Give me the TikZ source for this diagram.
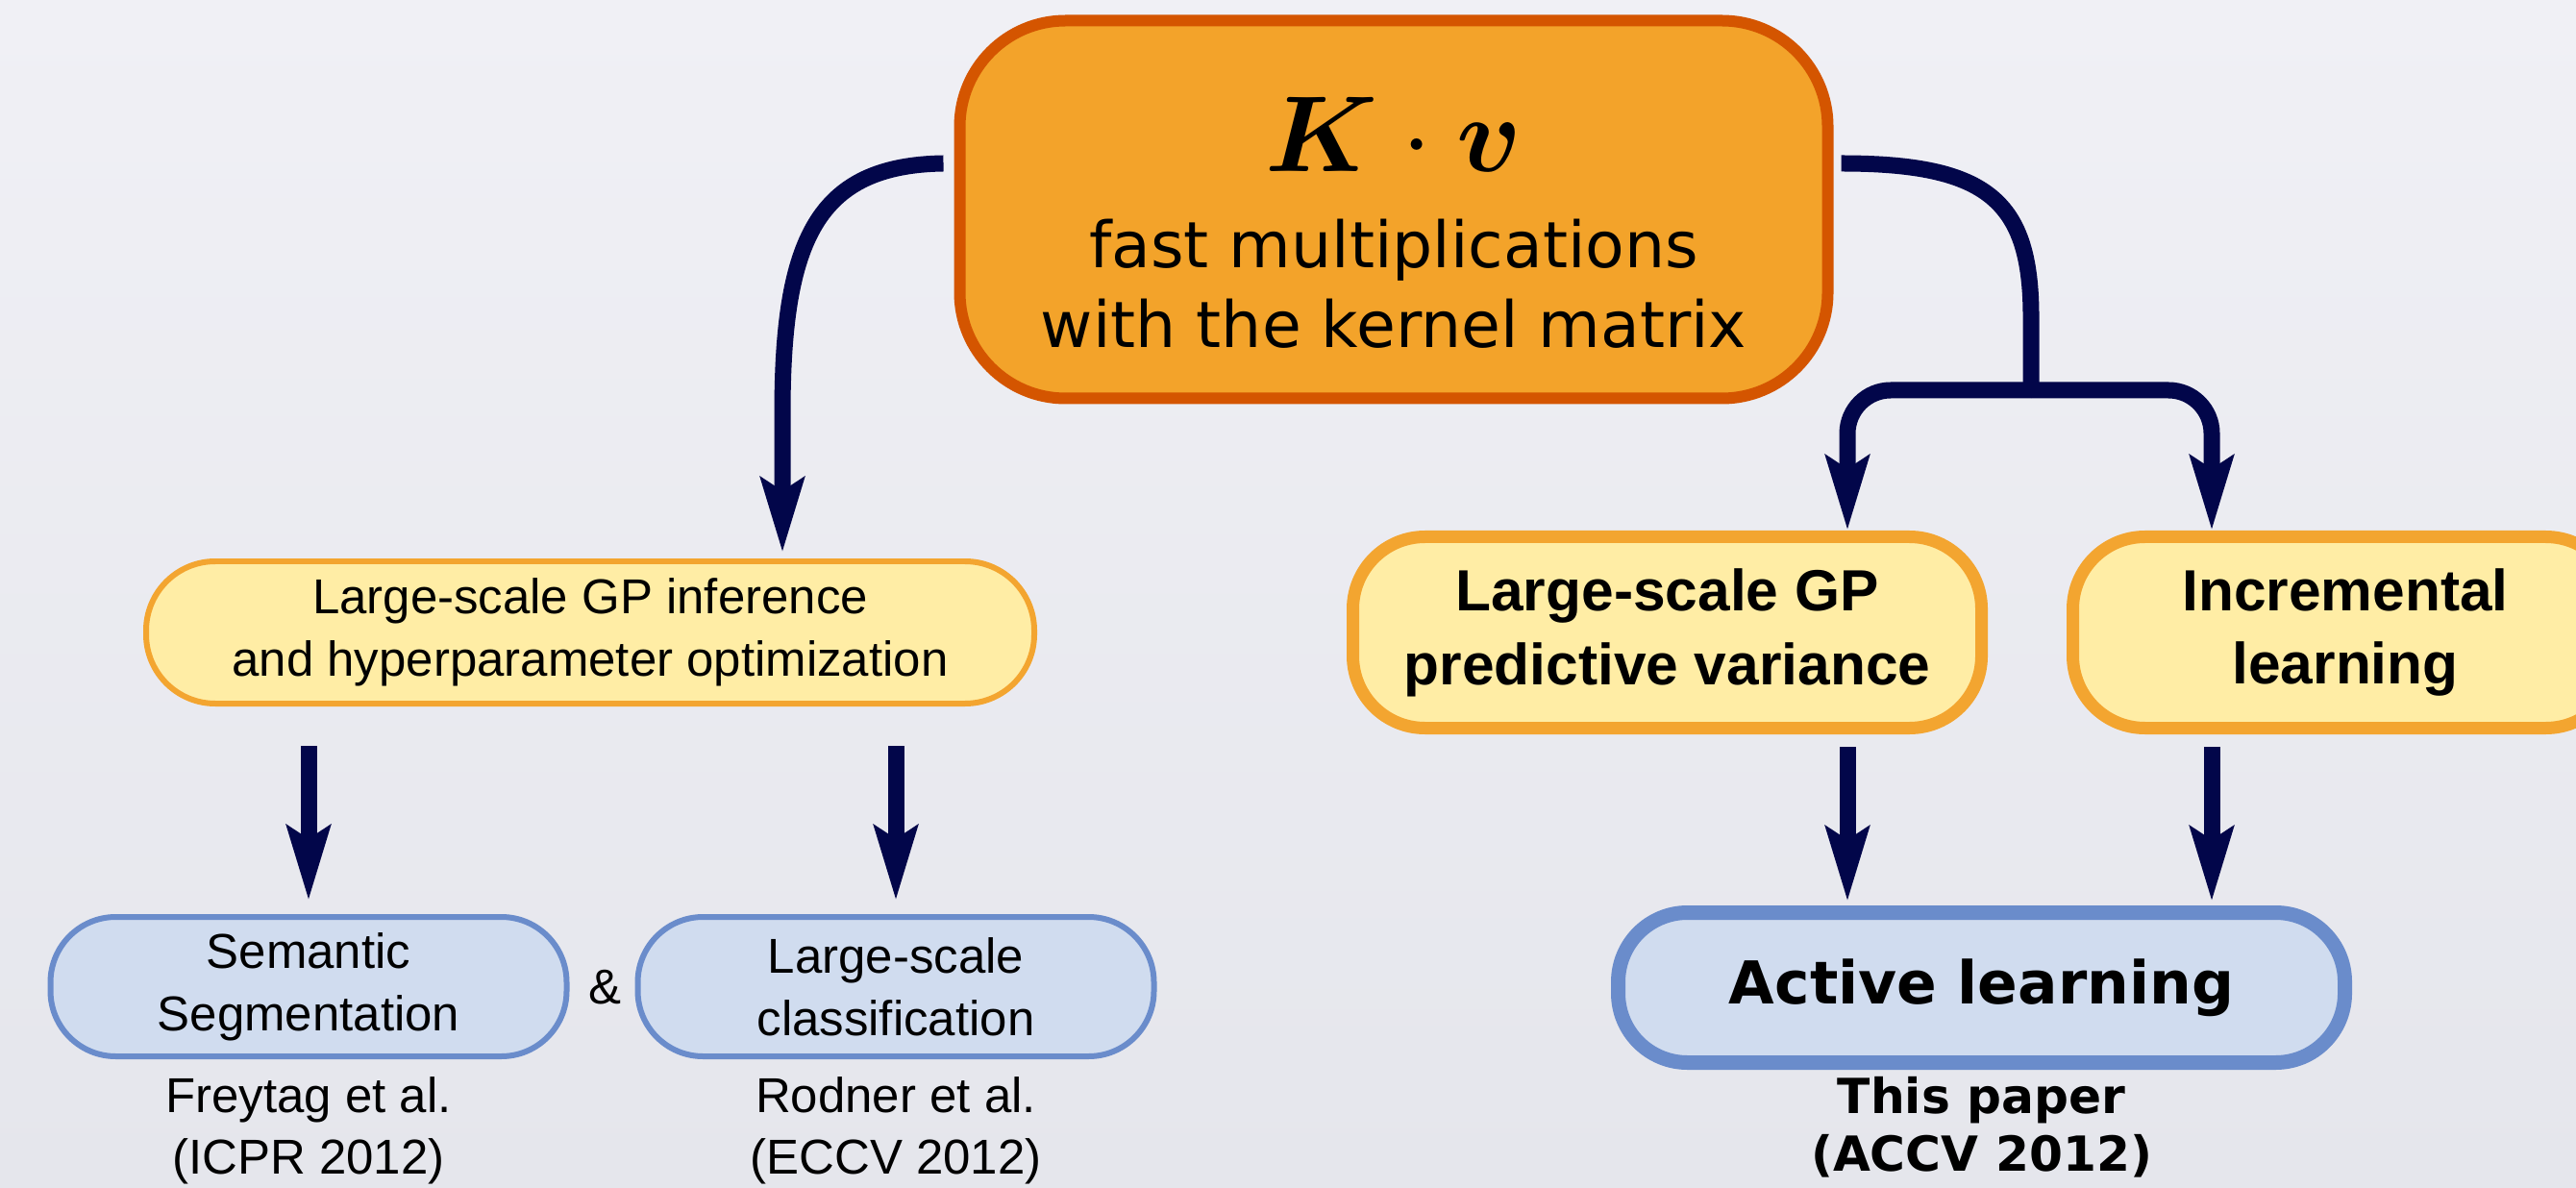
\RequirePackage{fix-cm}
\documentclass[tikz,border=0pt]{standalone}
\usepackage{fontspec}
\usepackage{amsmath,bm}
\usetikzlibrary{arrows.meta,positioning,calc}
\newfontfamily\arialfont{Liberation Sans}
\newfontfamily\verafont{DejaVu Sans}
\definecolor{KVOrange}{HTML}{F3A32A}
\definecolor{KVRust}{HTML}{D45500}
\definecolor{TaskFill}{HTML}{FFEDA5}
\definecolor{TaskLine}{HTML}{F3A530}
\definecolor{AppFill}{HTML}{D0DCEF}
\definecolor{AppLine}{HTML}{6A8CCB}
\definecolor{FlowNavy}{HTML}{02064A}
\definecolor{BgTop}{HTML}{F0F0F5}
\definecolor{BgBottom}{HTML}{E5E6EC}

\tikzset{
  kvbox/.style={rectangle,fill=KVOrange,draw=KVRust,line width=.12cm,
    rounded corners=1.1cm,minimum width=9.03cm,minimum height=3.93cm},
  kvtext/.style={font=\verafont\fontsize{18.9}{23.8}\selectfont,align=center,inner sep=0pt},
  taskbox/.style={rectangle,fill=TaskFill,draw=TaskLine,line width=.06cm,
    rounded corners=.72cm,align=center,inner sep=0pt,
    font=\arialfont\fontsize{14.5}{18.4}\selectfont},
  mainbox/.style={rectangle,fill=TaskFill,draw=TaskLine,line width=.13cm,
    rounded corners=.75cm,align=center,inner sep=0pt,minimum height=1.99cm,
    font=\arialfont\bfseries\fontsize{17.2}{21.9}\selectfont},
  appbox/.style={rectangle,fill=AppFill,draw=AppLine,line width=.06cm,
    rounded corners=.68cm,align=center,inner sep=0pt,
    minimum width=5.37cm,minimum height=1.45cm,
    font=\arialfont\fontsize{14.5}{18.4}\selectfont},
  oursbox/.style={rectangle,fill=AppFill,draw=AppLine,line width=.15cm,
    rounded corners=.72cm,align=center,inner sep=0pt,
    font=\verafont\bfseries\fontsize{17.5}{21}\selectfont},
  cite/.style={align=center,inner sep=0pt,font=\arialfont\fontsize{14.5}{18.2}\selectfont},
  ourscite/.style={align=center,inner sep=0pt,font=\verafont\bfseries\fontsize{14.3}{17.1}\selectfont},
  link/.style={draw=FlowNavy,line width=.17cm},
  flow/.style={link,-{Stealth[length=7.7mm,width=4.4mm,inset=1.3mm]}}
}

\begin{document}
\begin{tikzpicture}[x=1cm,y=1cm]
\path[use as bounding box] (0,0) rectangle (26.80,12.35);
\clip (0,0) rectangle (26.80,12.35);
\shade[top color=BgTop,bottom color=BgBottom] (0,0) rectangle (26.80,12.35);

% kernel multiplication box
\node[kvbox] (kv) at (14.50,10.17) {};
\node[anchor=base,inner sep=0pt] (kvsym) at (14.50,10.56)
  {\fontsize{32}{36}\selectfont$\bm{K}\cdot\bm{v}$};
\node[kvtext,anchor=north] (kvlbl) at (14.50,10.08) {fast multiplications\\with the kernel matrix};

% left branch
\node[taskbox,minimum width=9.24cm,minimum height=1.48cm] (inf) at (6.14,5.77)
  {Large-scale GP inference\\and hyperparameter optimization};
\node[appbox] (seg) at (3.21,2.085) {Semantic\\Segmentation};
\node[appbox] (cls) at (9.32,2.085) {Large-scale\\classification};
\node[cite] (amp) at (6.29,2.08) {\&};
\node[cite,below=.18cm of seg] (segref) {Freytag et al.\\(ICPR 2012)};
\node[cite,below=.18cm of cls] (clsref) {Rodner et al.\\(ECCV 2012)};

% right branch
\node[mainbox,minimum width=6.54cm] (var) at (17.345,5.77) {Large-scale GP\\predictive variance};
\node[mainbox,minimum width=5.67cm] (inc) at (24.40,5.77) {Incremental\\learning};
\node[oursbox,minimum width=7.56cm,minimum height=1.56cm] (act) at (20.615,2.075) {Active learning};
\node[ourscite,below=.07cm of act] (actref) {This paper\\(ACCV 2012)};

\coordinate (split) at (21.13,8.29);
\coordinate (colA) at (19.22,8.29);
\coordinate (colB) at (23.01,8.29);

% connectors
\draw[flow] ([xshift=-.11cm,yshift=.48cm]kv.west) .. controls +(-1.32,-.02) and +(0,1.80) ..
  (8.14,8.05) -- ($(inf.north)+(2.00,.06)$);
\draw[link] ([xshift=.08cm,yshift=.48cm]kv.east) .. controls +(1.54,0) and +(0,1.20) ..
  (21.13,9.05) -- (split);
\draw[flow,rounded corners=.45cm] (split) -| (var.north -| colA);
\draw[flow,rounded corners=.45cm] (split) -| (inc.north -| colB);

\draw[flow] ($(inf.south -| seg.north)+(0,-.41)$) -- ($(seg.north)+(0,.14)$);
\draw[flow] ($(inf.south -| cls.north)+(0,-.41)$) -- ($(cls.north)+(0,.14)$);
\draw[flow] ($(var.south -| colA)+(0,-.13)$) -- ($(act.north -| colA)+(0,.04)$);
\draw[flow] ($(inc.south -| colB)+(0,-.13)$) -- ($(act.north -| colB)+(0,.04)$);
\end{tikzpicture}
\end{document}
